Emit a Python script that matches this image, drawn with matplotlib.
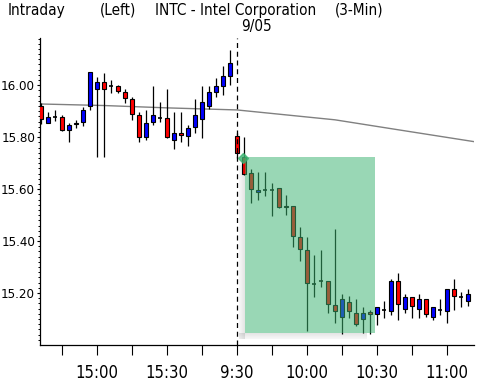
import numpy as np
import matplotlib.pyplot as plt
from matplotlib.patches import Rectangle

plt.rcParams['font.family'] = ['DejaVu Sans']
plt.rcParams['font.stretch'] = 'condensed'

# 3-minute bars, index 0 = 9:30 on 9/05, negative = previous afternoon
bar_idx = list(range(-28, 34))
opens = [15.92, 15.856, 15.877, 15.877, 15.828, 15.851, 15.858, 15.922, 15.986, 16.014,
         15.997, 15.997, 15.973, 15.946, 15.886, 15.80, 15.858, 15.875, 15.875, 15.79,
         15.815, 15.806, 15.838, 15.869, 15.92, 15.975, 15.998, 16.037,
         15.804, 15.725, 15.664, 15.588, 15.596, 15.596, 15.604, 15.537, 15.536, 15.415,
         15.367, 15.235, 15.247, 15.247, 15.154, 15.106, 15.165, 15.125, 15.10, 15.127,
         15.12, 15.136, 15.129, 15.245, 15.138, 15.185, 15.138, 15.177, 15.108, 15.133,
         15.129, 15.215, 15.183, 15.168]
closes = [15.87, 15.877, 15.877, 15.828, 15.846, 15.856, 15.905, 16.052, 16.014, 15.986,
          15.997, 15.978, 15.952, 15.89, 15.80, 15.854, 15.886, 15.875, 15.80, 15.815,
          15.808, 15.835, 15.886, 15.935, 15.973, 15.997, 16.036, 16.085,
          15.738, 15.658, 15.601, 15.596, 15.596, 15.596, 15.531, 15.531, 15.418, 15.369,
          15.238, 15.235, 15.247, 15.159, 15.129, 15.177, 15.129, 15.081, 15.125, 15.119,
          15.146, 15.136, 15.245, 15.159, 15.185, 15.151, 15.177, 15.12, 15.146, 15.133,
          15.215, 15.19, 15.183, 15.197]
highs = [15.93, 15.897, 15.905, 15.886, 15.854, 15.867, 15.918, 16.052, 16.033, 16.048,
         16.02, 16.001, 15.985, 15.954, 15.898, 15.905, 15.997, 15.935, 15.985, 15.898,
         15.898, 15.847, 15.946, 15.997, 15.997, 16.027, 16.074, 16.136,
         15.817, 15.802, 15.677, 15.668, 15.668, 15.623, 15.604, 15.578, 15.536, 15.454,
         15.415, 15.347, 15.367, 15.247, 15.446, 15.197, 15.19, 15.177, 15.148, 15.136,
         15.146, 15.168, 15.255, 15.277, 15.197, 15.185, 15.197, 15.177, 15.146, 15.177,
         15.215, 15.255, 15.204, 15.217]
lows = [15.85, 15.853, 15.862, 15.824, 15.783, 15.835, 15.843, 15.905, 15.725, 15.725,
        15.972, 15.969, 15.933, 15.867, 15.783, 15.79, 15.847, 15.86, 15.796, 15.754,
        15.783, 15.767, 15.815, 15.796, 15.908, 15.956, 15.963, 16.001,
        15.719, 15.655, 15.546, 15.559, 15.572, 15.498, 15.527, 15.501, 15.379, 15.325,
        15.052, 15.185, 15.225, 15.125, 15.085, 15.043, 15.104, 15.074, 15.046, 15.043,
        15.078, 15.104, 15.117, 15.095, 15.125, 15.104, 15.104, 15.108, 15.095, 15.117,
        15.085, 15.133, 15.146, 15.152]

# long moving average (gray line)
ma_idx = [-28.14, -19, -10, 0, 14, 22, 33.86]
ma_val = [15.928, 15.922, 15.913, 15.905, 15.867, 15.833, 15.783]

# highlighted region
box_start, box_end = 1.2, 19.7
box_low, box_high = 15.048, 15.725

tick_pos = [-25, -20, -15, -10, -5, 0, 5, 10, 15, 20, 25, 30]
tick_labels = ['', '15:00', '', '15:30', '', '9:30', '', '10:00', '', '10:30', '', '11:00']
y_ticks = [15.2, 15.4, 15.6, 15.8, 16.0]

W, H = 481, 382
fs = 11
fig = plt.figure(figsize=(W / 100, H / 100), dpi=100)
ax = fig.add_axes([40 / W, (H - 345) / H, (474 - 40) / W, (345 - 38) / H])

o = np.array(opens); c = np.array(closes)
x = np.array(bar_idx)
up = c > o
dn = c < o
eq = c == o

ax.vlines(x, lows, highs, color='black', lw=0.9, zorder=2)
ax.bar(x[up], (c - o)[up], bottom=o[up], width=0.6, color='#0000ff', edgecolor='black', lw=0.8, zorder=3)
ax.bar(x[dn], (o - c)[dn], bottom=c[dn], width=0.6, color='#ff0000', edgecolor='black', lw=0.8, zorder=3)
ax.hlines(o[eq], x[eq] - 0.35, x[eq] + 0.35, color='black', lw=1.2, zorder=3)

ax.plot(ma_idx, ma_val, color='#808080', lw=1.0, zorder=1)

ax.axvline(0, color='black', lw=0.9, ls=(0, (4, 3)), zorder=4)

# shadow of the box, offset left/down
px, py = 1 / 7, 1 / 260
for k in range(1, 7):
    a = 0.08 * (7 - k) / 6 + 0.02
    ax.add_patch(Rectangle((box_start - k * px, box_low - 6 * py), px, (box_high - box_low) - 2 * py,
                           color='black', alpha=a, lw=0, zorder=4))
    ax.add_patch(Rectangle((box_start - 6 * px, box_low - k * py), (box_end - box_start) - 2 * px, py,
                           color='black', alpha=a, lw=0, zorder=4))
ax.add_patch(Rectangle((box_start, box_low), box_end - box_start, box_high - box_low,
                       facecolor='#3cb371', alpha=0.52, lw=0, zorder=5))
ax.plot([box_start - 0.35], [box_high - 0.005], marker='D', ms=5, color='#3cb371', alpha=0.8, zorder=6)

ax.set_xlim(-28.14, 33.86)
ax.set_ylim(15.0, 16.182)

ax.set_xticks(tick_pos)
ax.set_xticklabels(tick_labels)
ax.tick_params(axis='x', length=7.5, width=0.8, pad=6, labelsize=12)
ax.set_yticks(y_ticks)
ax.set_yticklabels(['%.2f' % v for v in y_ticks])
ax.set_yticks(np.arange(15.02, 16.18, 0.02), minor=True)
ax.tick_params(axis='y', which='major', length=2.5, width=0.8, pad=1, labelsize=9.5)
ax.tick_params(axis='y', which='minor', length=1.5, width=0.7)

for s in ['top', 'right']:
    ax.spines[s].set_visible(False)
for s in ['left', 'bottom']:
    ax.spines[s].set_linewidth(0.9)

fig.text(8 / W, 1 - 10 / H, 'Intraday', fontsize=fs, va='center', ha='left')
fig.text(100 / W, 1 - 10 / H, '(Left)', fontsize=fs, va='center', ha='left')
fig.text(155 / W, 1 - 10 / H, 'INTC - Intel Corporation', fontsize=fs, va='center', ha='left')
fig.text(335 / W, 1 - 10 / H, '(3-Min)', fontsize=fs, va='center', ha='left')
fig.text(257 / W, 1 - 26 / H, '9/05', fontsize=fs, va='center', ha='center')

fig.savefig('out.png', dpi=100)
